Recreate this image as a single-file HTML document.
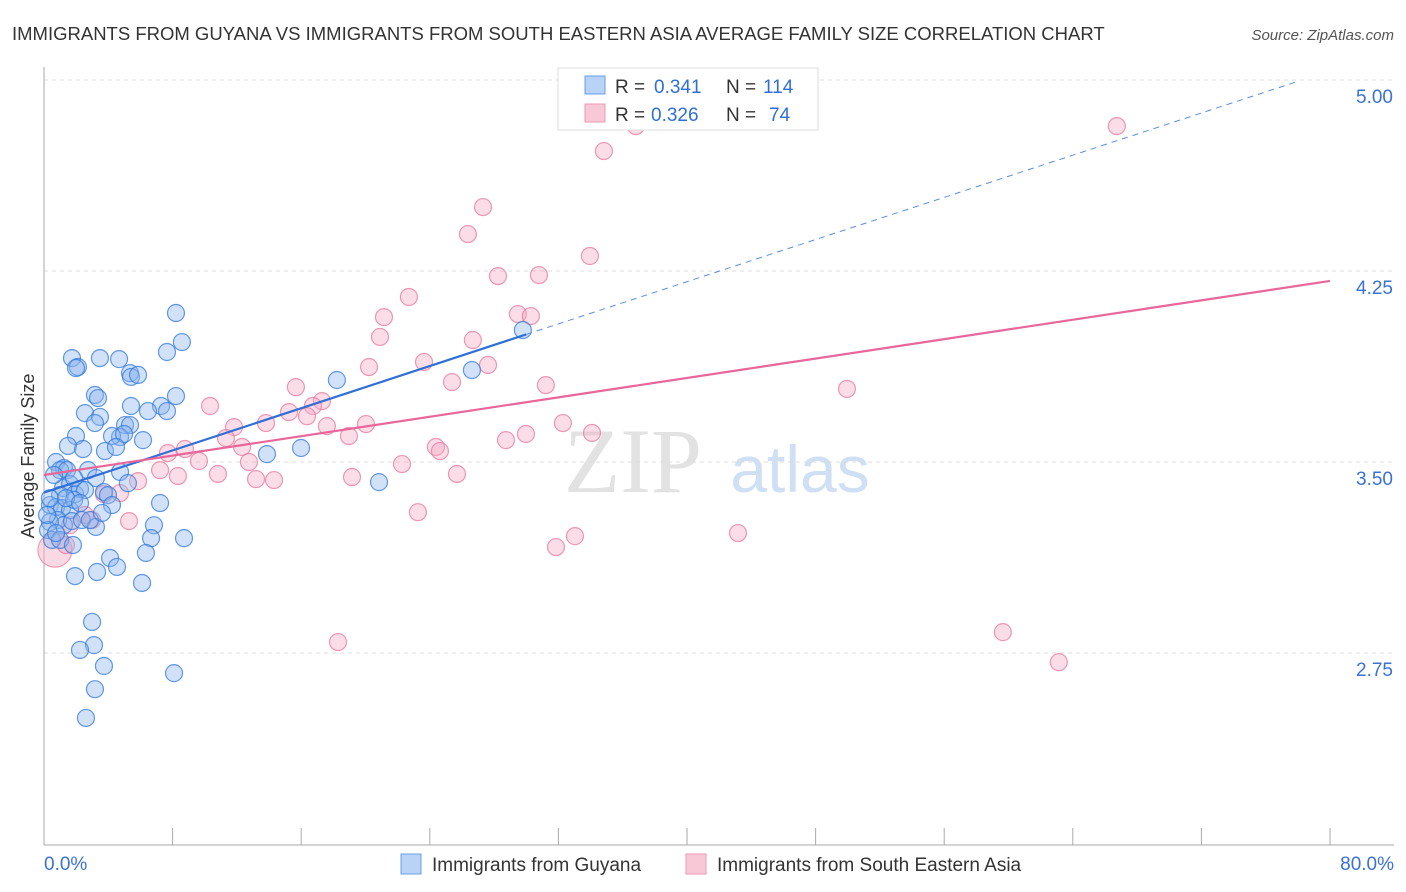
<!DOCTYPE html>
<html><head><meta charset="utf-8">
<style>
body{margin:0;background:#fff;font-family:"Liberation Sans",sans-serif;}
#wrap{position:relative;width:1406px;height:892px;overflow:hidden;}
</style></head>
<body>
<div id="wrap">
<svg id="svg" width="1406" height="892" xmlns="http://www.w3.org/2000/svg">
<text x="12" y="40" font-size="18.5" fill="#333">IMMIGRANTS FROM GUYANA VS IMMIGRANTS FROM SOUTH EASTERN ASIA AVERAGE FAMILY SIZE CORRELATION CHART</text>
<text x="1394" y="40" font-size="15" fill="#555" font-style="italic" text-anchor="end">Source: ZipAtlas.com</text>
<text x="633" y="492" font-size="92" fill="#e2e2e2" font-family="Liberation Serif" text-anchor="middle">ZIP</text>
<text x="800" y="492" font-size="66" fill="#d0e0f4" text-anchor="middle">atlas</text>
<text transform="translate(34,456) rotate(-90)" font-size="18" fill="#333" text-anchor="middle">Average Family Size</text>
<g id="grid"></g><g id="pts"></g><g id="lines"></g>
<g>
<rect x="558" y="68" width="260" height="62" fill="#fff" stroke="#ddd"/>
<rect x="585" y="76" width="20" height="18" fill="#b8d3f5" stroke="#6a9ee8"/>
<rect x="585" y="104" width="20" height="18" fill="#f9c8d6" stroke="#ec9ab2"/>
<text x="615" y="93" font-size="19" fill="#333">R =</text>
<text x="654" y="93" font-size="19" fill="#2f6fd6">0.341</text>
<text x="726" y="93" font-size="19" fill="#333">N =</text>
<text x="763" y="93" font-size="19" fill="#2f6fd6">114</text>
<text x="615" y="121" font-size="19" fill="#333">R =</text>
<text x="651" y="121" font-size="19" fill="#2f6fd6">0.326</text>
<text x="726" y="121" font-size="19" fill="#333">N =</text>
<text x="769" y="121" font-size="19" fill="#2f6fd6">74</text>
</g>
<g>
<rect x="401" y="854" width="20" height="20" fill="#b8d3f5" stroke="#6a9ee8"/>
<text x="432" y="871" font-size="19" fill="#333">Immigrants from Guyana</text>
<rect x="686" y="854" width="20" height="20" fill="#f9c8d6" stroke="#ec9ab2"/>
<text x="717" y="871" font-size="19" fill="#333">Immigrants from South Eastern Asia</text>
</g>
</svg>
</div>
<script>
const yTicks=[5.00,4.25,3.50,2.75];
const xTickLabels=["0.0%","80.0%"];
const blueX=[8.21,8.58,7.65,1.74,3.48,4.67,2.11,1.99,5.35,5.41,5.85,3.17,3.36,8.21,18.22,26.62,29.79,2.55,3.48,5.41,7.28,7.65,6.47,3.17,5.04,5.35,4.73,4.23,4.98,1.99,1.49,2.43,3.79,4.48,6.16,13.87,15.99,0.75,1.24,1.00,2.74,1.43,3.23,4.73,5.22,1.18,1.62,0.62,1.00,1.93,2.24,2.55,3.73,3.98,4.23,7.22,0.37,0.75,1.12,1.62,1.87,0.87,1.24,1.74,2.36,3.23,2.86,3.61,0.37,0.25,0.50,1.00,1.80,6.84,6.66,8.71,20.84,4.11,6.34,3.30,4.54,1.93,6.10,2.99,3.11,2.24,3.73,8.09,3.17,2.61,0.37,0.19,0.75,1.37,1.87,2.24];
const blueY=[4.085,3.971,3.932,3.908,3.908,3.904,3.873,3.869,3.849,3.834,3.842,3.763,3.751,3.759,3.822,3.861,4.018,3.692,3.677,3.720,3.720,3.700,3.700,3.653,3.645,3.645,3.598,3.602,3.610,3.602,3.563,3.551,3.543,3.559,3.586,3.531,3.555,3.500,3.476,3.468,3.468,3.468,3.437,3.461,3.417,3.398,3.413,3.449,3.370,3.374,3.394,3.390,3.382,3.370,3.331,3.339,3.331,3.323,3.319,3.311,3.351,3.272,3.252,3.268,3.272,3.245,3.272,3.300,3.264,3.233,3.194,3.194,3.174,3.252,3.201,3.201,3.421,3.123,3.143,3.068,3.088,3.052,3.025,2.872,2.781,2.762,2.699,2.671,2.608,2.495,3.358,3.292,3.221,3.358,3.437,3.339];
const pinkX=[66.74,34.83,36.82,27.31,26.37,33.96,28.24,30.79,22.70,21.15,29.48,30.29,20.90,26.68,23.64,20.22,27.62,25.38,15.67,31.22,49.95,17.29,10.33,16.73,15.24,16.36,20.03,13.81,17.60,11.82,32.28,34.09,18.97,11.32,28.74,29.98,24.38,24.63,8.77,7.71,12.32,9.64,12.75,22.27,7.22,10.82,8.33,25.69,13.19,14.31,19.16,5.85,4.73,3.73,23.26,5.29,2.99,43.17,33.03,31.85,1.37,59.65,18.29,63.13,1.62,2.55];
const pinkY=[4.819,4.721,4.819,4.501,4.395,4.309,4.230,4.234,4.148,4.069,4.081,4.073,3.991,3.979,3.893,3.873,3.881,3.814,3.794,3.802,3.787,3.739,3.720,3.720,3.696,3.680,3.649,3.653,3.641,3.637,3.653,3.614,3.602,3.594,3.586,3.610,3.559,3.543,3.551,3.535,3.559,3.504,3.500,3.492,3.468,3.453,3.445,3.453,3.433,3.429,3.441,3.425,3.378,3.374,3.303,3.268,3.272,3.221,3.209,3.166,3.174,2.832,2.793,2.714,3.252,3.292];
const pinkBigX=[0.68];
const pinkBigY=[3.154];
const blueTrend=[3.38,0.0207];
const pinkTrend=[3.449,0.009525];
const NS="http://www.w3.org/2000/svg";
const X=p=>44+p*16.075;
const Y=v=>80+(5-v)*254.67;
function mk(t,a,parent){const e=document.createElementNS(NS,t);for(const k in a)e.setAttribute(k,a[k]);parent.appendChild(e);return e;}
const grid=document.getElementById('grid'),pts=document.getElementById('pts'),lines=document.getElementById('lines');
yTicks.forEach(v=>{
  const l=mk('line',{x1:44,x2:1394,y1:Y(v),y2:Y(v),stroke:'#ddd','stroke-dasharray':'4,4'},grid);
  
  
  const t=mk('text',{x:1393,y:Y(v)+23,'font-size':19,fill:'#3a72d6','text-anchor':'end'},grid);
  t.textContent=v.toFixed(2);
  
  
});
mk('line',{x1:44,x2:44,y1:67,y2:845,stroke:'#aaa'},grid);
mk('line',{x1:44,x2:1394,y1:845,y2:845,stroke:'#aaa'},grid);
for(let i=0;i<=10;i++){const tk=mk('line',{x1:X(i*8),x2:X(i*8),y1:828,y2:845,stroke:'#aaa'},grid);
  
  }
const t0=mk('text',{x:44,y:870,'font-size':19,fill:'#3a72d6'},grid);t0.textContent=xTickLabels[0];


const t1=mk('text',{x:1394,y:870,'font-size':19,fill:'#3a72d6','text-anchor':'end'},grid);t1.textContent=xTickLabels[1];


pinkBigX.forEach((p,i)=>{const c=mk('circle',{cx:X(p),cy:Y(pinkBigY[i]),r:17,fill:'rgba(246,170,195,0.45)',stroke:'rgba(232,120,155,0.7)','stroke-width':1.2},pts);
  
  });
pinkX.forEach((p,i)=>{const c=mk('circle',{cx:X(p),cy:Y(pinkY[i]),r:8.5,fill:'rgba(246,170,195,0.4)',stroke:'rgba(232,120,155,0.75)','stroke-width':1.2},pts);
  
  });
blueX.forEach((p,i)=>{const c=mk('circle',{cx:X(p),cy:Y(blueY[i]),r:8.5,fill:'rgba(140,180,238,0.4)',stroke:'rgba(50,120,220,0.75)','stroke-width':1.2},pts);
  
  });
const bl=mk('line',{x1:X(0),y1:Y(blueTrend[0]),x2:X(30),y2:Y(blueTrend[0]+blueTrend[1]*30),stroke:'#2f6fd6','stroke-width':2.2},lines);


const bd=mk('line',{x1:X(30),y1:Y(blueTrend[0]+blueTrend[1]*30),x2:X(78),y2:Y(blueTrend[0]+blueTrend[1]*78),stroke:'#5a8ee0','stroke-width':1,'stroke-dasharray':'6,5'},lines);


const pl=mk('line',{x1:X(0),y1:Y(pinkTrend[0]),x2:X(80),y2:Y(pinkTrend[0]+pinkTrend[1]*80),stroke:'#e8669a','stroke-width':2.2},lines);


</script>
</body></html>
